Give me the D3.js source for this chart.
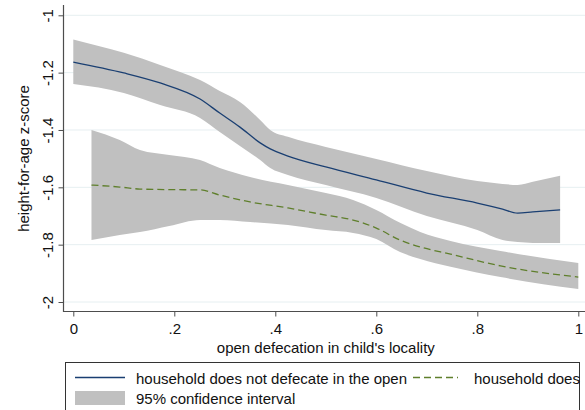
<!DOCTYPE html>
<html>
<head>
<meta charset="utf-8">
<script src="https://cdn.jsdelivr.net/npm/d3@7"></script>
<style>
  html, body { margin: 0; padding: 0; background: #fff; }
  svg { display: block; font-family: "Liberation Sans", Arial, sans-serif; }
</style>
</head>
<body>
<svg id="chart" width="585" height="410"></svg>
<script>
// ---- data ----
const xTicks = [0, 0.2, 0.4, 0.6, 0.8, 1];
const xTickLabels = ["0", ".2", ".4", ".6", ".8", "1"];
const yTicks = [-2, -1.8, -1.6, -1.4, -1.2, -1];
const yTickLabels = ["-2", "-1.8", "-1.6", "-1.4", "-1.2", "-1"];

// household does not defecate in the open
const notX    = [0.00, 0.10, 0.172, 0.251, 0.29, 0.33, 0.37, 0.39, 0.425, 0.50, 0.60, 0.70, 0.80, 0.85, 0.88, 0.91, 0.964];
const notMean = [-1.163, -1.201, -1.236, -1.292, -1.341, -1.390, -1.445, -1.466, -1.491, -1.529, -1.574, -1.620, -1.655, -1.676, -1.690, -1.686, -1.679];
const notHi   = [-1.084, -1.131, -1.173, -1.226, -1.264, -1.302, -1.365, -1.400, -1.424, -1.459, -1.501, -1.543, -1.578, -1.588, -1.592, -1.581, -1.560];
const notLo   = [-1.240, -1.271, -1.313, -1.358, -1.407, -1.456, -1.505, -1.533, -1.557, -1.592, -1.637, -1.700, -1.749, -1.784, -1.791, -1.794, -1.794];

// household does defecate in the open
const doesX    = [0.036, 0.092, 0.132, 0.19, 0.251, 0.29, 0.35, 0.425, 0.50, 0.554, 0.60, 0.647, 0.687, 0.747, 0.846, 1.00];
const doesMean = [-1.592, -1.599, -1.606, -1.608, -1.609, -1.627, -1.651, -1.672, -1.697, -1.714, -1.742, -1.784, -1.808, -1.833, -1.874, -1.913];
const doesHi   = [-1.400, -1.435, -1.470, -1.487, -1.505, -1.533, -1.564, -1.592, -1.620, -1.644, -1.679, -1.724, -1.756, -1.787, -1.822, -1.864];
const doesLo   = [-1.784, -1.766, -1.756, -1.735, -1.714, -1.714, -1.721, -1.731, -1.749, -1.759, -1.780, -1.826, -1.850, -1.877, -1.913, -1.955];

const legendLabels = ["household does not defecate in the open", "household does", "95% confidence interval"];
const xTitle = "open defecation in child's locality";
const yTitle = "height-for-age z-score";

// ---- drawing ----
const svg = d3.select("#chart");
const W = 585, H = 410;
const axisX = 63.5, axisTop = 5, axisBottom = 311.5;
const FS = 15;

const x = d3.scaleLinear().domain([0, 1]).range([73.3, 578.3]);
const y = d3.scaleLinear().domain([-2, -1]).range([302, 15.3]);

const bandColor = "#c0c0c0";
const blue = "#1a3f72";
const green = "#5f7f2c";
const axisColor = "#4d4d4d";
const textColor = "#111";

// gridlines
svg.append("g").selectAll("line").data(yTicks).join("line")
  .attr("x1", axisX).attr("x2", W)
  .attr("y1", d => y(d)).attr("y2", d => y(d))
  .attr("stroke", "#e6eff1").attr("stroke-width", 1);

function zip(xs, a, b) { return xs.map((v, i) => ({x: v, a: a[i], b: b ? b[i] : null})); }

const area = d3.area().curve(d3.curveMonotoneX)
  .x(d => x(d.x)).y0(d => y(d.b)).y1(d => y(d.a));
const line = d3.line().curve(d3.curveMonotoneX)
  .x(d => x(d.x)).y(d => y(d.a));

svg.append("path").datum(zip(notX, notHi, notLo)).attr("d", area).attr("fill", bandColor);
svg.append("path").datum(zip(doesX, doesHi, doesLo)).attr("d", area).attr("fill", bandColor);

svg.append("path").datum(zip(notX, notMean)).attr("d", line)
  .attr("fill", "none").attr("stroke", blue).attr("stroke-width", 1.3);
svg.append("path").datum(zip(doesX, doesMean)).attr("d", line)
  .attr("fill", "none").attr("stroke", green).attr("stroke-width", 1.3)
  .attr("stroke-dasharray", "7,4");

// y axis
const yAxis = d3.axisLeft(y).tickValues(yTicks)
  .tickFormat((d, i) => yTickLabels[i]).tickSize(5).tickSizeOuter(0);
const gy = svg.append("g").attr("transform", `translate(${axisX},0)`).call(yAxis);
gy.select(".domain").remove();
gy.selectAll(".tick line").attr("stroke", axisColor);
gy.selectAll(".tick text")
  .attr("x", null).attr("dy", null)
  .attr("transform", "translate(-11,0) rotate(-90)")
  .attr("text-anchor", "middle")
  .attr("font-size", FS).attr("fill", textColor)
  .attr("font-family", "Liberation Sans, Arial, sans-serif");
svg.append("line").attr("x1", axisX).attr("x2", axisX)
  .attr("y1", axisTop).attr("y2", axisBottom + 0.5)
  .attr("stroke", axisColor).attr("stroke-width", 1.2);

// x axis
const xAxis = d3.axisBottom(x).tickValues(xTicks)
  .tickFormat((d, i) => xTickLabels[i]).tickSize(5).tickSizeOuter(0);
const gx = svg.append("g").attr("transform", `translate(0,${axisBottom})`).call(xAxis);
gx.select(".domain").remove();
gx.selectAll(".tick line").attr("stroke", axisColor);
gx.selectAll(".tick text").attr("y", 22).attr("dy", null)
  .attr("font-size", FS).attr("fill", textColor)
  .attr("font-family", "Liberation Sans, Arial, sans-serif");
svg.append("line").attr("x1", axisX - 0.5).attr("x2", W)
  .attr("y1", axisBottom).attr("y2", axisBottom)
  .attr("stroke", axisColor).attr("stroke-width", 1.2);

// titles
svg.append("text").attr("x", 325.8).attr("y", 353)
  .attr("text-anchor", "middle").attr("font-size", FS).attr("fill", textColor)
  .text(xTitle);
svg.append("text").attr("transform", "translate(29,158.5) rotate(-90)")
  .attr("text-anchor", "middle").attr("font-size", FS).attr("fill", textColor)
  .text(yTitle);

// legend
const lg = svg.append("g");
lg.append("rect").attr("x", 65.5).attr("y", 362.5).attr("width", 514).attr("height", 60)
  .attr("fill", "#fff").attr("stroke", "#333").attr("stroke-width", 1);
lg.append("line").attr("x1", 75).attr("x2", 125).attr("y1", 377.5).attr("y2", 377.5)
  .attr("stroke", blue).attr("stroke-width", 1.3);
lg.append("text").attr("x", 136).attr("y", 383.5).attr("font-size", FS).attr("fill", textColor)
  .text(legendLabels[0]);
lg.append("line").attr("x1", 413).attr("x2", 458).attr("y1", 377.5).attr("y2", 377.5)
  .attr("stroke", green).attr("stroke-width", 1.3).attr("stroke-dasharray", "7,4");
lg.append("text").attr("x", 474).attr("y", 383.5).attr("font-size", FS).attr("fill", textColor)
  .text(legendLabels[1]);
lg.append("rect").attr("x", 75).attr("y", 391).attr("width", 50).attr("height", 14)
  .attr("fill", bandColor);
lg.append("text").attr("x", 136).attr("y", 403.5).attr("font-size", FS).attr("fill", textColor)
  .text(legendLabels[2]);
</script>
</body>
</html>
